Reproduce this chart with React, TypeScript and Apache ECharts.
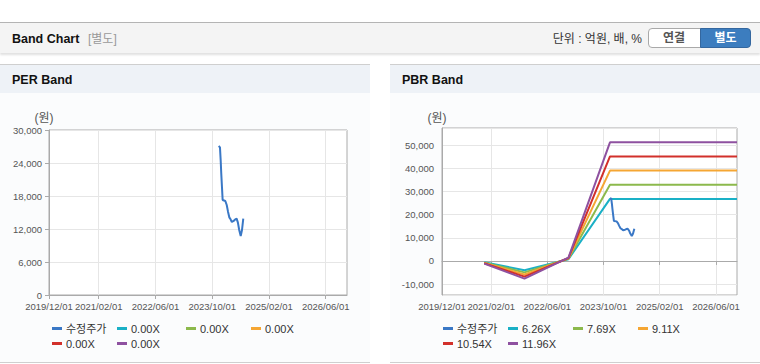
import React, { useEffect, useRef } from 'react';
import * as echarts from 'echarts';

// ---- axis range and tick labels ----
const xMin = '2019-12-01';
const xMax = '2026-12-01';
const xTickLabels = ['2019/12/01', '2021/02/01', '2022/06/01', '2023/10/01', '2025/02/01', '2026/06/01'];

// ---- 수정주가 (adjusted price) ----
const priceDates = [
  '2023-11-26', '2023-12-07', '2023-12-13', '2023-12-18', '2023-12-24', '2023-12-30',
  '2024-01-22', '2024-02-03', '2024-02-14', '2024-02-25', '2024-03-07', '2024-03-18',
  '2024-04-05', '2024-04-16', '2024-04-28', '2024-05-09', '2024-05-20', '2024-06-02',
  '2024-06-13', '2024-06-24',
];
const priceValues = [
  27090, 26850, 24550, 22120, 19700, 17270,
  17090, 16360, 15150, 14120, 13760, 13270,
  13510, 13760, 13880, 13150, 11820, 10730,
  11820, 13880,
];

// ---- PER band (no data, all multiples 0.00X) ----
const perBandLabels = ['0.00X', '0.00X', '0.00X', '0.00X', '0.00X'];

// ---- PBR band ----
const pbrBandDates = ['2020-12-01', '2021-11-15', '2022-12-01', '2023-11-26', '2026-12-01'];
const pbrBandLabels = ['6.26X', '7.69X', '9.11X', '10.54X', '11.96X'];
const pbrBand626 = [-600, -4000, 750, 26800, 26800];
const pbrBand769 = [-730, -4920, 920, 32900, 32900];
const pbrBand911 = [-870, -5830, 1090, 39000, 39000];
const pbrBand1054 = [-1000, -6750, 1260, 45100, 45100];
const pbrBand1196 = [-1140, -7650, 1440, 51200, 51200];
const pbrBandValues = [pbrBand626, pbrBand769, pbrBand911, pbrBand1054, pbrBand1196];

const priceColor = '#3a78c6';
const bandColors = ['#1ab0c6', '#8cb94c', '#f5a633', '#d2302b', '#8e51a0'];

const FONT = '"Liberation Sans", "Noto Sans CJK KR", sans-serif';

function buildMonths(): string[] {
  const out: string[] = [];
  let y = Number(xMin.slice(0, 4));
  let m = Number(xMin.slice(5, 7));
  const ey = Number(xMax.slice(0, 4));
  const em = Number(xMax.slice(5, 7));
  while (y < ey || (y === ey && m <= em)) {
    out.push(`${y}/${String(m).padStart(2, '0')}/01`);
    m += 1;
    if (m > 12) { m = 1; y += 1; }
  }
  return out;
}

const fmt = (v: number) => Number(v).toLocaleString('en-US');

export default function App() {
  const ref = useRef<HTMLDivElement>(null);

  useEffect(() => {
    if (!ref.current) return;
    const chart = echarts.init(ref.current, undefined, { renderer: 'svg' });
    const months = buildMonths();
    const showIdx = (_i: number, v: string) => xTickLabels.includes(v);

    const catAxis = (gridIndex: number) => ({
      type: 'category',
      gridIndex,
      data: months,
      boundaryGap: false,
      axisLine: { show: true, lineStyle: { color: '#aaaaaa' } },
      axisTick: { show: true, interval: showIdx, length: 4, lineStyle: { color: '#aaaaaa' } },
      axisLabel: {
        interval: showIdx, margin: 7, color: '#555', fontSize: 9.5, fontFamily: FONT,
      },
      splitLine: { show: true, interval: showIdx, lineStyle: { color: '#e6e6e6' } },
    });
    const timeAxis = (gridIndex: number) => ({
      type: 'time', gridIndex, min: xMin, max: xMax, show: false,
    });

    const priceData = priceDates.map((d, i) => [d, priceValues[i]]);

    const legendItem = (name: string, left: number, top: number, label: string) => ({
      data: [name],
      left, top,
      orient: 'horizontal',
      padding: 0,
      itemGap: 0,
      icon: 'rect',
      itemWidth: 10,
      itemHeight: 3,
      selectedMode: false,
      formatter: () => label,
      textStyle: { color: '#333', fontSize: 11, fontFamily: FONT, padding: [0, 0, 0, -1] },
    });

    const series: any[] = [];
    series.push({
      name: '수정주가', type: 'line', xAxisIndex: 1, yAxisIndex: 0, data: priceData,
      showSymbol: false, color: priceColor, lineStyle: { width: 2, color: priceColor }, z: 5,
    });
    perBandLabels.forEach((_l, i) => {
      series.push({
        name: `PER ${i + 1}`, type: 'line', xAxisIndex: 1, yAxisIndex: 0, data: [],
        showSymbol: false, color: bandColors[i], lineStyle: { width: 2, color: bandColors[i] },
      });
    });
    pbrBandLabels.forEach((l, i) => {
      series.push({
        name: l, type: 'line', xAxisIndex: 3, yAxisIndex: 1,
        data: pbrBandDates.map((d, j) => [d, pbrBandValues[i][j]]),
        showSymbol: false, color: bandColors[i], lineStyle: { width: 2, color: bandColors[i] },
      });
    });
    series.push({
      name: '수정주가', type: 'line', xAxisIndex: 3, yAxisIndex: 1, data: priceData,
      showSymbol: false, color: priceColor, lineStyle: { width: 2, color: priceColor }, z: 5,
    });

    const text = (t: string, x: number, y: number, font: string, fill: string, align = 'left') => ({
      type: 'text', x, y, silent: true,
      style: { text: t, font, fill, textAlign: align, textVerticalAlign: 'middle', align, verticalAlign: 'middle' },
    });

    const option: any = {
      animation: false,
      textStyle: { fontFamily: FONT },
      grid: [
        { left: 49, top: 130, width: 298, height: 165, show: true, borderColor: '#aaaaaa', borderWidth: 1, backgroundColor: '#ffffff' },
        { left: 442, top: 128, width: 295, height: 167, show: true, borderColor: '#aaaaaa', borderWidth: 1, backgroundColor: '#ffffff' },
      ],
      xAxis: [catAxis(0), timeAxis(0), catAxis(1), timeAxis(1)],
      yAxis: [
        {
          type: 'value', gridIndex: 0, min: 0, max: 30000, interval: 6000,
          name: '(원)', nameLocation: 'end', nameGap: 6,
          nameTextStyle: { color: '#555', fontSize: 12, fontFamily: FONT, align: 'center', padding: [0, 10, 0, 0] },
          axisLine: { show: true, lineStyle: { color: '#aaaaaa' } },
          axisTick: { show: true, length: 4, lineStyle: { color: '#aaaaaa' } },
          axisLabel: { color: '#555', fontSize: 9.5, fontFamily: FONT, margin: 7, formatter: fmt },
          splitLine: { show: true, lineStyle: { color: '#e6e6e6' } },
        },
        {
          type: 'value', gridIndex: 1, min: -14700, max: 57400, minInterval: 10000, maxInterval: 10000, splitNumber: 7,
          name: '(원)', nameLocation: 'end', nameGap: 4,
          nameTextStyle: { color: '#555', fontSize: 12, fontFamily: FONT, align: 'center', padding: [0, 10, 0, 0] },
          axisLine: { show: true, lineStyle: { color: '#aaaaaa' } },
          axisTick: { show: false },
          axisLabel: { color: '#555', fontSize: 9.5, fontFamily: FONT, margin: 8, formatter: fmt, showMinLabel: false, showMaxLabel: false },
          splitLine: { show: true, lineStyle: { color: '#e6e6e6' } },
        },
      ],
      legend: [
        legendItem('수정주가', 52, 323, '수정주가'),
        legendItem('PER 1', 117, 323, perBandLabels[0]),
        legendItem('PER 2', 186, 323, perBandLabels[1]),
        legendItem('PER 3', 251, 323, perBandLabels[2]),
        legendItem('PER 4', 52, 338, perBandLabels[3]),
        legendItem('PER 5', 117, 338, perBandLabels[4]),
        legendItem('수정주가', 443, 323, '수정주가'),
        legendItem(pbrBandLabels[0], 508, 323, pbrBandLabels[0]),
        legendItem(pbrBandLabels[1], 573, 323, pbrBandLabels[1]),
        legendItem(pbrBandLabels[2], 638, 323, pbrBandLabels[2]),
        legendItem(pbrBandLabels[3], 443, 338, pbrBandLabels[3]),
        legendItem(pbrBandLabels[4], 508, 338, pbrBandLabels[4]),
      ],
      graphic: [
        text('Band Chart', 12, 39, `bold 12.5px ${FONT}`, '#111'),
        text('[별도]', 88, 39, `12px ${FONT}`, '#999'),
        text('단위 : 억원, 배, %', 642, 39, `12px ${FONT}`, '#333', 'right'),
        text('연결', 674, 38, `bold 12px ${FONT}`, '#555', 'center'),
        text('별도', 725.5, 38, `bold 12px ${FONT}`, '#ffffff', 'center'),
        text('PER Band', 12, 80, `bold 12.5px ${FONT}`, '#111'),
        text('PBR Band', 402, 80, `bold 12.5px ${FONT}`, '#111'),
      ],
      series,
    };
    chart.setOption(option);
    return () => chart.dispose();
  }, []);

  const abs = (s: React.CSSProperties): React.CSSProperties => ({ position: 'absolute', boxSizing: 'border-box', ...s });

  return (
    <div style={abs({ left: 0, top: 0, width: 760, height: 364, background: '#ffffff', overflow: 'hidden' })}>
      {/* header */}
      <div style={abs({ left: 0, top: 22, width: 760, height: 31, background: '#f4f4f4', borderTop: '1px solid #b4b4b4', boxShadow: '0 2px 2px rgba(0,0,0,0.12)' })} />
      <div style={abs({ left: 648, top: 28, width: 53, height: 20, background: '#ffffff', border: '1px solid #a9a9a9', borderRadius: '4px 0 0 4px' })} />
      <div style={abs({ left: 700, top: 28, width: 51, height: 20, background: '#3c7dbf', border: '1px solid #34679f', borderRadius: '0 4px 4px 0' })} />
      {/* left panel */}
      <div style={abs({ left: 0, top: 64, width: 370, height: 299, background: '#fbfcfd', borderTop: '1px solid #cfcfcf', borderBottom: '1px solid #cfcfcf' })} />
      <div style={abs({ left: 0, top: 65, width: 370, height: 28, background: '#eef2f7' })} />
      {/* right panel */}
      <div style={abs({ left: 390, top: 64, width: 370, height: 299, background: '#fbfcfd', borderTop: '1px solid #cfcfcf', borderBottom: '1px solid #cfcfcf' })} />
      <div style={abs({ left: 390, top: 65, width: 370, height: 28, background: '#eef2f7' })} />
      <div ref={ref} style={abs({ left: 0, top: 0, width: 760, height: 364 })} />
    </div>
  );
}
